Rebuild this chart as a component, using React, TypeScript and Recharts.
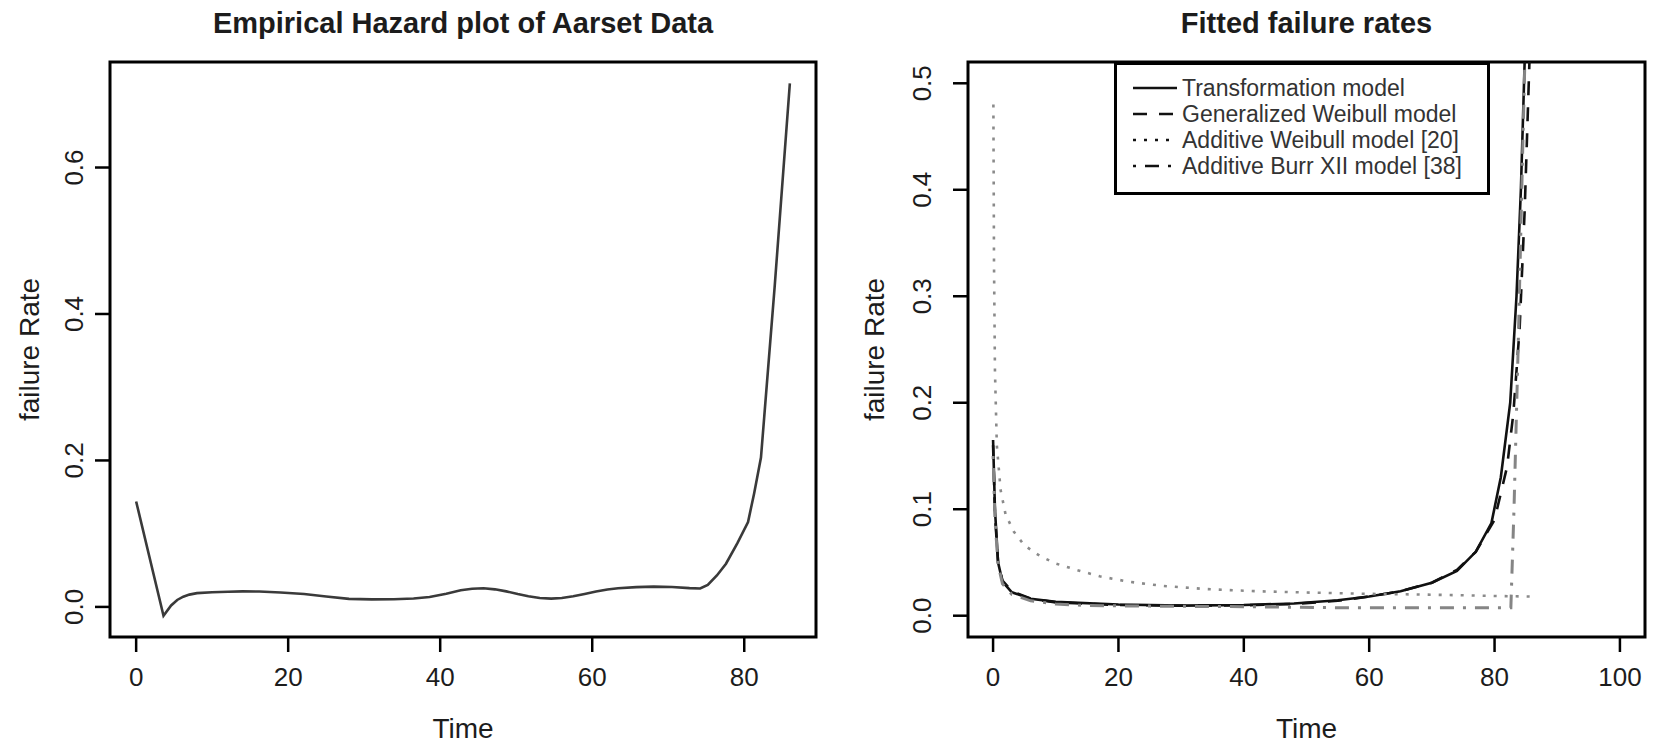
import React from 'react';
import { LineChart, Line, XAxis, YAxis, ReferenceArea, Legend } from 'recharts';

const FONT = '"Liberation Sans", Arial, Helvetica, sans-serif';
const INK = '#1c1c1c';
const W = 1657;
const H = 746;

// ---------- Left panel: empirical hazard of Aarset data ----------
const EMP_TIME = [0, 3.6, 4.6, 5.4, 6.2, 7, 8, 10, 12.1, 14, 16.2, 19, 22.1, 25, 28, 31, 33.9, 36.5, 38.6, 40.8, 42.7, 44.2, 45.7, 47.2, 48.7, 50.2, 51.6, 53.1, 54.6, 56, 57.5, 59, 60.5, 62, 63.4, 65.8, 68.1, 70.5, 72.8, 74.2, 75.2, 76.4, 77.6, 79.1, 80.5, 81.3, 82.2, 84, 86];
const EMP_RATE = [0.144, -0.012, 0.002, 0.0095, 0.0140, 0.0168, 0.0188, 0.0200, 0.0208, 0.0212, 0.0210, 0.0196, 0.0177, 0.0143, 0.0110, 0.0103, 0.0104, 0.0115, 0.0136, 0.0180, 0.0228, 0.0248, 0.0254, 0.0240, 0.0212, 0.0175, 0.0145, 0.0122, 0.0113, 0.0122, 0.0145, 0.0177, 0.0210, 0.0237, 0.0254, 0.0270, 0.0277, 0.0272, 0.0256, 0.0252, 0.030, 0.043, 0.059, 0.087, 0.116, 0.155, 0.204, 0.437, 0.715];
const LEFT_X_TICKS = [0, 20, 40, 60, 80];
const LEFT_Y_TICKS = [0, 0.2, 0.4, 0.6];

// ---------- Right panel: fitted failure rates ----------
const TRANS_TIME = [0, 0.3, 0.8, 1.5, 3, 6, 10, 20, 30, 40, 48, 55, 60, 65, 70, 74, 77, 79.5, 81, 82.5, 83.5, 84.2, 84.7, 85.2];
const TRANS_RATE = [0.165, 0.10, 0.05, 0.032, 0.022, 0.016, 0.013, 0.0105, 0.0095, 0.010, 0.0115, 0.0145, 0.018, 0.023, 0.031, 0.042, 0.06, 0.087, 0.13, 0.2, 0.3, 0.4, 0.5, 0.6];

const GW_TIME = [0, 0.3, 0.8, 1.5, 3, 6, 10, 20, 30, 40, 48, 55, 60, 65, 70, 74, 77, 80, 82, 83, 84, 84.8, 85.4, 86];
const GW_RATE = [0.16, 0.095, 0.05, 0.033, 0.023, 0.016, 0.0125, 0.010, 0.0095, 0.0098, 0.011, 0.014, 0.018, 0.023, 0.031, 0.043, 0.06, 0.09, 0.14, 0.19, 0.27, 0.38, 0.49, 0.6];

const AW_TIME = [0.05, 0.15, 0.3, 0.6, 1.2, 2, 3.3, 5, 7.5, 10, 13.3, 17, 21.6, 27, 34, 42, 50.6, 60, 67, 75, 80, 86];
const AW_RATE = [0.48, 0.33, 0.23, 0.16, 0.118, 0.095, 0.079, 0.066, 0.056, 0.049, 0.043, 0.037, 0.032, 0.028, 0.025, 0.023, 0.0217, 0.0205, 0.020, 0.0192, 0.0185, 0.018];

const BURR_TIME = [0, 0.3, 0.8, 1.5, 3, 6, 10, 15, 25, 40, 55, 70, 82.6, 83.1, 83.8, 84.5, 85];
const BURR_RATE = [0.15, 0.09, 0.048, 0.03, 0.02, 0.014, 0.011, 0.0095, 0.009, 0.0085, 0.0075, 0.0075, 0.0075, 0.1, 0.26, 0.44, 0.56];

const RIGHT_X_LIM = [0, 100];
const RIGHT_Y_LIM = [0, 0.5];
const RIGHT_X_TICKS = [0, 20, 40, 60, 80, 100];
const RIGHT_Y_TICKS = [0, 0.1, 0.2, 0.3, 0.4, 0.5];

const SERIES_NAMES = ['Transformation model', 'Generalized Weibull model', 'Additive Weibull model [20]', 'Additive Burr XII model [38]'];

// ---------- helpers ----------
const zip = (xs: number[], ys: number[]) => xs.map((x, i) => ({ x, y: ys[i] }));
const pad = (lo: number, hi: number): [number, number] => {
  const d = (hi - lo) * 0.04;
  return [lo - d, hi + d];
};

const LEFT_X_DOMAIN = pad(Math.min(...EMP_TIME), Math.max(...EMP_TIME));
const LEFT_Y_DOMAIN = pad(Math.min(...EMP_RATE), Math.max(...EMP_RATE));
const RIGHT_X_DOMAIN = pad(RIGHT_X_LIM[0], RIGHT_X_LIM[1]);
const RIGHT_Y_DOMAIN = pad(RIGHT_Y_LIM[0], RIGHT_Y_LIM[1]);

const LINE_STYLES = [
  { stroke: '#111', width: 2.6, dash: undefined as string | undefined },
  { stroke: '#111', width: 2.6, dash: '14 12' },
  { stroke: '#8a8a8a', width: 2.6, dash: '3 8' },
  { stroke: '#858585', width: 3, dash: '3 9 14 9' },
];

const RIGHT_SERIES = [
  zip(TRANS_TIME, TRANS_RATE),
  zip(GW_TIME, GW_RATE),
  zip(AW_TIME, AW_RATE),
  zip(BURR_TIME, BURR_RATE),
];

const TICK_FS = 26;
const LAB_FS = 28;

const makeYTick = () => (props: any) => {
  const { x, y, payload } = props;
  return (
    <text x={x} y={y} transform={`rotate(-90 ${x} ${y})`} textAnchor="middle" fontSize={TICK_FS} fill={INK}>
      {Number(payload.value).toFixed(1)}
    </text>
  );
};

const makeYLabel = (offset: number) => (props: any) => {
  const vb = props.viewBox || {};
  const cx = vb.x + vb.width - offset + LAB_FS * 0.36;
  const cy = vb.y + vb.height / 2;
  return (
    <text x={cx} y={cy} transform={`rotate(-90 ${cx} ${cy})`} textAnchor="middle" fontSize={LAB_FS} fill={INK}>
      failure Rate
    </text>
  );
};

const XLabel = (props: any) => {
  const vb = props.viewBox || {};
  return (
    <text x={vb.x + vb.width / 2} y={vb.y + 101} textAnchor="middle" fontSize={LAB_FS} fill={INK}>
      Time
    </text>
  );
};

const LegendBox = () => {
  const rows = [26, 52, 78, 104];
  return (
    <svg width={376} height={133} style={{ display: 'block', fontFamily: FONT }}>
      <rect x={1.5} y={1.5} width={373} height={130} fill="#fff" stroke="#000" strokeWidth={3} />
      {SERIES_NAMES.map((name, i) => (
        <g key={name}>
          <line x1={19} x2={63} y1={rows[i]} y2={rows[i]} stroke="#111" strokeWidth={2.6} strokeDasharray={LINE_STYLES[i].dash} />
          <text x={68} y={rows[i]} dominantBaseline="central" fontSize={23} fill="#333">
            {name}
          </text>
        </g>
      ))}
    </svg>
  );
};

type PanelProps = {
  left: number;
  width: number;
  margin: { top: number; right: number; bottom: number; left: number };
  xDomain: [number, number];
  yDomain: [number, number];
  xTicks: number[];
  yTicks: number[];
  yTickMargin: number;
  yLabelOffset: number;
  title: string;
  children?: React.ReactNode;
};

function Panel(p: PanelProps) {
  const plotLeft = p.margin.left + 60;
  const plotWidth = p.width - plotLeft - p.margin.right;
  return (
    <div style={{ position: 'absolute', left: p.left, top: 0, width: p.width, height: H }}>
      <div
        style={{
          position: 'absolute',
          left: plotLeft,
          width: plotWidth,
          top: 6,
          lineHeight: '34px',
          fontSize: 29,
          fontWeight: 'bold',
          textAlign: 'center',
          color: INK,
          zIndex: 2,
        }}
      >
        {p.title}
      </div>
      <LineChart width={p.width} height={H} margin={p.margin}>
        <XAxis
          type="number"
          dataKey="x"
          domain={p.xDomain}
          ticks={p.xTicks}
          interval={0}
          allowDataOverflow
          height={30}
          axisLine={false}
          tickLine={{ stroke: '#000', strokeWidth: 2.5 }}
          tickSize={15}
          tickMargin={16}
          tick={{ fontSize: TICK_FS, fill: INK }}
          label={{ content: XLabel }}
        />
        <YAxis
          type="number"
          dataKey="y"
          domain={p.yDomain}
          ticks={p.yTicks}
          interval={0}
          allowDataOverflow
          width={60}
          axisLine={false}
          tickLine={{ stroke: '#000', strokeWidth: 2.5 }}
          tickSize={15}
          tickMargin={p.yTickMargin}
          tick={makeYTick()}
          label={{ content: makeYLabel(p.yLabelOffset) }}
        />
        <ReferenceArea
          x1={p.xDomain[0]}
          x2={p.xDomain[1]}
          y1={p.yDomain[0]}
          y2={p.yDomain[1]}
          ifOverflow="visible"
          fill="none"
          fillOpacity={0}
          stroke="#000"
          strokeWidth={3}
        />
        {p.children}
      </LineChart>
    </div>
  );
}

export default function App() {
  return (
    <div style={{ position: 'absolute', left: 0, top: 0, width: W, height: H, background: '#fff', fontFamily: FONT }}>
      <Panel
        left={0}
        width={830}
        margin={{ top: 62, right: 14, bottom: 79, left: 50 }}
        xDomain={LEFT_X_DOMAIN}
        yDomain={LEFT_Y_DOMAIN}
        xTicks={LEFT_X_TICKS}
        yTicks={LEFT_Y_TICKS}
        yTickMargin={12}
        yLabelOffset={81}
        title="Empirical Hazard plot of Aarset Data"
      >
        <Line
          data={zip(EMP_TIME, EMP_RATE)}
          dataKey="y"
          type="linear"
          stroke="#3a3a3a"
          strokeWidth={2.6}
          dot={false}
          isAnimationActive={false}
        />
      </Panel>
      <Panel
        left={830}
        width={827}
        margin={{ top: 62, right: 12, bottom: 79, left: 78 }}
        xDomain={RIGHT_X_DOMAIN}
        yDomain={RIGHT_Y_DOMAIN}
        xTicks={RIGHT_X_TICKS}
        yTicks={RIGHT_Y_TICKS}
        yTickMargin={22}
        yLabelOffset={94}
        title="Fitted failure rates"
      >
        {RIGHT_SERIES.map((d, i) => (
          <Line
            key={SERIES_NAMES[i]}
            name={SERIES_NAMES[i]}
            data={d}
            dataKey="y"
            type="linear"
            stroke={LINE_STYLES[i].stroke}
            strokeWidth={LINE_STYLES[i].width}
            strokeDasharray={LINE_STYLES[i].dash}
            dot={false}
            isAnimationActive={false}
          />
        ))}
        <Legend
          layout="vertical"
          align="center"
          verticalAlign="middle"
          wrapperStyle={{ left: 284, top: 62, width: 376, height: 133 }}
          content={LegendBox}
        />
      </Panel>
    </div>
  );
}
